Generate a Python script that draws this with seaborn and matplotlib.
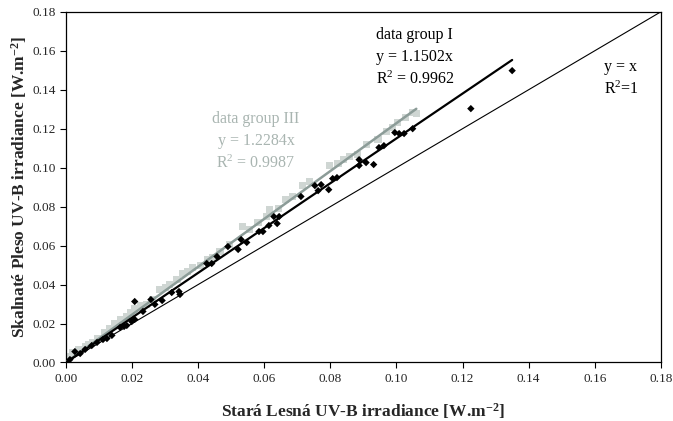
import matplotlib
matplotlib.use("Agg")
import matplotlib.pyplot as plt
import seaborn as sns
import numpy as np
from matplotlib.ticker import FormatStrFormatter

# data group I (black diamonds)
g1_x = [0.0012, 0.0027, 0.0043, 0.0058, 0.0078, 0.0094, 0.0112, 0.0124, 0.0139, 0.0164,
        0.0176, 0.0184, 0.0199, 0.0208, 0.0208, 0.0233, 0.0257, 0.0269, 0.0291, 0.0320,
        0.0342, 0.0345, 0.0426, 0.0441, 0.0457, 0.0490, 0.0521, 0.0530, 0.0547, 0.0584,
        0.0596, 0.0614, 0.0629, 0.0639, 0.0645, 0.0711, 0.0753, 0.0763, 0.0772, 0.0795,
        0.0807, 0.0820, 0.0887, 0.0887, 0.0908, 0.0931, 0.0947, 0.0962, 0.0995, 0.1008,
        0.1023, 0.1049, 0.1225, 0.1350]
g1_y = [0.0015, 0.0056, 0.0046, 0.0067, 0.0087, 0.0103, 0.0118, 0.0123, 0.0139, 0.0180,
        0.0185, 0.0190, 0.0210, 0.0221, 0.0313, 0.0262, 0.0323, 0.0298, 0.0318, 0.0359,
        0.0364, 0.0349, 0.0508, 0.0508, 0.0544, 0.0595, 0.0580, 0.0631, 0.0616, 0.0672,
        0.0672, 0.0703, 0.0749, 0.0713, 0.0749, 0.0852, 0.0908, 0.0882, 0.0913, 0.0887,
        0.0944, 0.0949, 0.1041, 0.1011, 0.1026, 0.1016, 0.1103, 0.1113, 0.1180, 0.1175,
        0.1175, 0.1200, 0.1303, 0.1498]

# data group III (light grey squares)
g3_x = [0.0003, 0.0012, 0.0021, 0.0037, 0.0058, 0.0069, 0.0081, 0.0097, 0.0118, 0.0133,
        0.0148, 0.0164, 0.0184, 0.0196, 0.0208, 0.0227, 0.0245, 0.0263, 0.0282, 0.0300,
        0.0314, 0.0336, 0.0354, 0.0369, 0.0384, 0.0406, 0.0429, 0.0444, 0.0466, 0.0496,
        0.0533, 0.0556, 0.0581, 0.0608, 0.0617, 0.0642, 0.0663, 0.0686, 0.0717, 0.0738,
        0.0798, 0.0823, 0.0841, 0.0859, 0.0881, 0.0910, 0.0944, 0.0971, 0.0989, 0.1002,
        0.1026, 0.1049, 0.1060]
g3_y = [0.0015, 0.0031, 0.0051, 0.0067, 0.0082, 0.0092, 0.0103, 0.0123, 0.0154, 0.0174,
        0.0200, 0.0221, 0.0236, 0.0257, 0.0277, 0.0292, 0.0298, 0.0323, 0.0374, 0.0385,
        0.0400, 0.0426, 0.0457, 0.0467, 0.0487, 0.0498, 0.0528, 0.0539, 0.0569, 0.0605,
        0.0698, 0.0682, 0.0718, 0.0749, 0.0785, 0.0790, 0.0836, 0.0852, 0.0908, 0.0929,
        0.1011, 0.1021, 0.1041, 0.1057, 0.1067, 0.1118, 0.1144, 0.1185, 0.1206, 0.1231,
        0.1257, 0.1283, 0.1280]

slope_g1 = 1.1502
slope_g3 = 1.2284
ticks = [0.00, 0.02, 0.04, 0.06, 0.08, 0.10, 0.12, 0.14, 0.16, 0.18]

sns.set_style("ticks")
plt.rcParams['font.family'] = ['Liberation Serif', 'DejaVu Serif']
plt.rcParams['mathtext.fontset'] = 'custom'
plt.rcParams['mathtext.rm'] = 'Liberation Serif'
plt.rcParams['mathtext.it'] = 'Liberation Serif:italic'
plt.rcParams['mathtext.bf'] = 'Liberation Serif:bold'

fig, ax = plt.subplots(figsize=(6.73, 4.21), dpi=100)
plt.subplots_adjust(left=0.098, right=0.982, top=0.972, bottom=0.139)

grey_pts = '#cfd6d3'
grey_line = '#8c9c98'
grey_txt = '#a9b5b1'

sns.scatterplot(x=g3_x, y=g3_y, marker='s', s=26, color=grey_pts, edgecolor='none', ax=ax, zorder=2)
sns.scatterplot(x=g1_x, y=g1_y, marker='D', s=14, color='black', edgecolor='none', ax=ax, zorder=4)

lx1 = np.array([0.0, max(g1_x)])
lx3 = np.array([0.0, max(g3_x)])
sns.lineplot(x=lx3, y=slope_g3 * lx3, color=grey_line, linewidth=1.8, ax=ax, zorder=3)
sns.lineplot(x=lx1, y=slope_g1 * lx1, color='black', linewidth=1.6, ax=ax, zorder=5)
sns.lineplot(x=[0.0, 0.18], y=[0.0, 0.18], color='black', linewidth=0.8, ax=ax, zorder=3)

ax.set_xlim(0, 0.18)
ax.set_ylim(0, 0.18)
ax.set_xticks(ticks)
ax.set_yticks(ticks)
ax.xaxis.set_major_formatter(FormatStrFormatter('%.2f'))
ax.yaxis.set_major_formatter(FormatStrFormatter('%.2f'))
ax.tick_params(direction='out', length=4, width=0.8, labelsize=9.5, color='black')
for sp in ax.spines.values():
    sp.set_color('black')
    sp.set_linewidth(0.9)

ax.set_xlabel('Stará Lesná UV-B irradiance [W.m$^{\\mathbf{-2}}$]', fontsize=12.5,
              fontweight='bold', labelpad=12)
ax.set_ylabel('Skalnaté Pleso UV-B irradiance [W.m$^{\\mathbf{-2}}$]', fontsize=12.5,
              fontweight='bold', labelpad=2)

ax.text(0.0938, 0.172, 'data group I\ny = 1.1502x\nR$^2$ = 0.9962', fontsize=11.5,
        ha='left', va='top', linespacing=1.45, color='black')
ax.text(0.0575, 0.129, 'data group III\ny = 1.2284x\nR$^2$ = 0.9987', fontsize=11.5,
        ha='center', va='top', linespacing=1.45, color=grey_txt)
ax.text(0.1628, 0.156, 'y = x\nR$^2$=1', fontsize=11.5, ha='left', va='top',
        linespacing=1.45, color='black')

plt.savefig('out.png', dpi=100)
